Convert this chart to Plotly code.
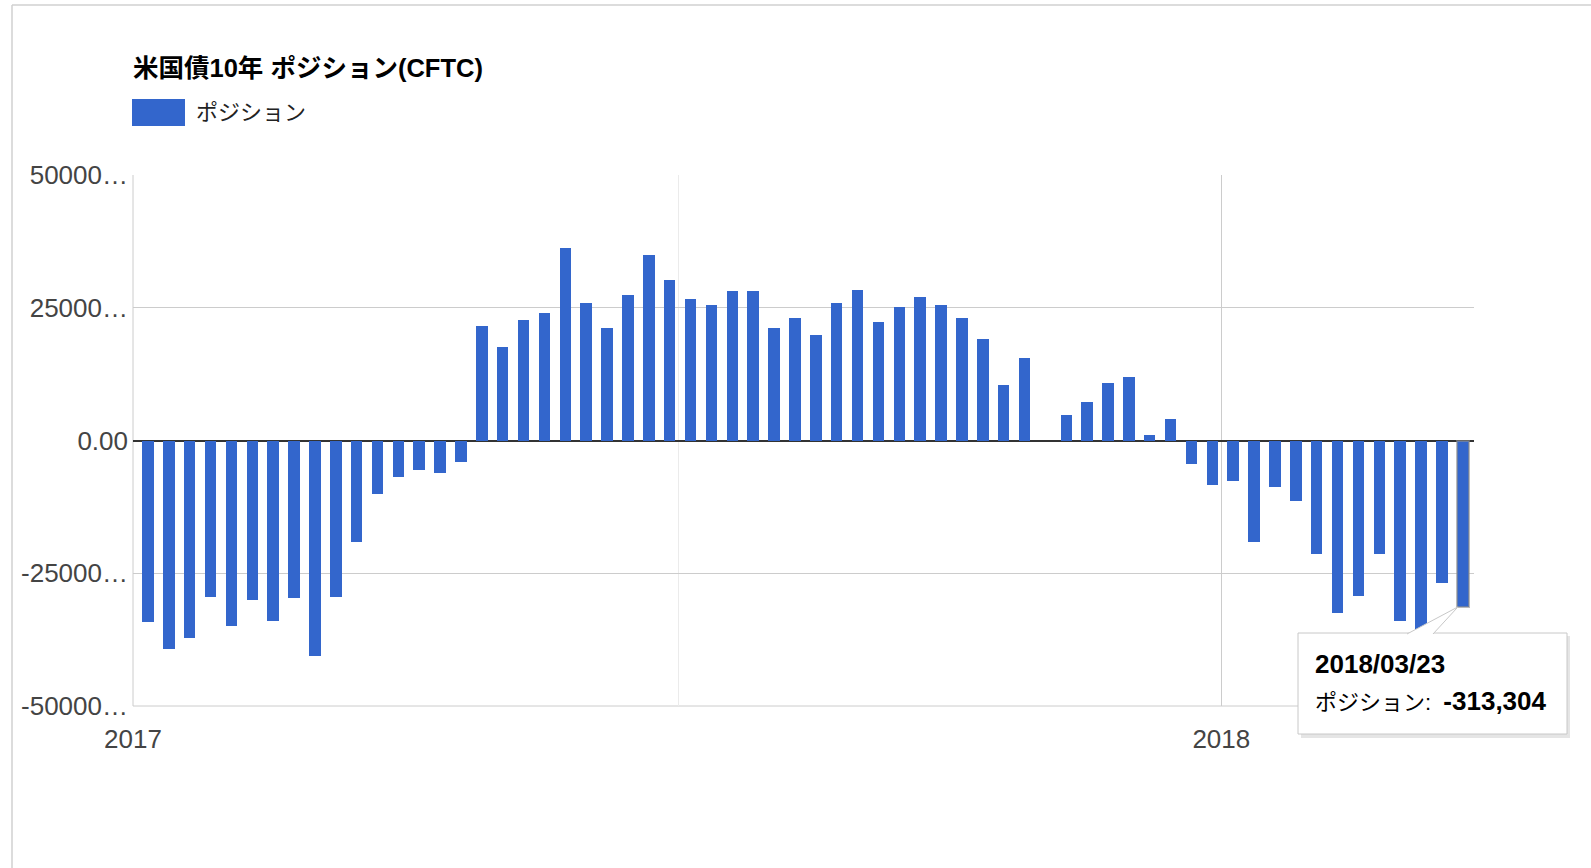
import plotly.graph_objects as go
import pandas as pd

# ---------------- data ----------------
dates = pd.date_range("2017-01-06", "2018-03-23", freq="7D").strftime("%Y-%m-%d").tolist()
positions = [
    -342000, -392000, -371000, -294000, -350000, -300000, -339000, -297000,
    -405000, -294000, -192000, -100000, -69000, -55000, -62000, -41000,
    216000, 176000, 227000, 241000, 363000, 259000, 212000, 274000,
    349000, 302000, 267000, 256000, 281000, 281000, 212000, 230000,
    198000, 259000, 284000, 223000, 252000, 270000, 256000, 230000,
    191000, 105000, 155000, None, 48000, 73000, 109000, 120000,
    11000, 41000, -45000, -83000, -76000, -192000, -87000, -114000,
    -213000, -325000, -293000, -213000, -339000, -355000, -269000, -313304,
]
y_tickvals = [-500000, -250000, 0, 250000, 500000]
y_ticktext = ["-50000…", "-25000…", "0.00", "25000…", "50000…"]
x_tickvals = ["2017-01-01", "2018-01-01"]
x_ticktext = ["2017", "2018"]
x_minor_grid = ["2017-07-03"]
x_range = ["2017-01-01", "2018-03-26 18:00"]
title_text = "米国債10年 ポジション(CFTC)"
series_name = "ポジション"

# ---------------- layout geometry ----------------
W, H = 1591, 868
ML, MR, MT, MB = 133, 117, 175, 162
PW, PH = W - ML - MR, H - MT - MB


def xp(px):
    return (px - ML) / PW


def yp(py):
    return (H - MB - py) / PH


LATIN = "Liberation Sans, Arial, Noto Sans CJK JP, sans-serif"
BLUE = "#3366cc"

n = len(dates)
line_w = [0] * (n - 1) + [2]
line_c = ["rgba(0,0,0,0)"] * (n - 1) + ["rgba(140,140,140,0.6)"]

fig = go.Figure(
    go.Bar(
        x=dates,
        y=positions,
        name=series_name,
        width=3.33e8,
        marker=dict(color=BLUE, line=dict(width=line_w, color=line_c)),
        hoverinfo="skip",
    )
)

shapes = []
# plot-area edge gridlines (left 2017 line and bottom line)
shapes.append(dict(type="line", xref="paper", yref="paper", x0=0, x1=0, y0=0, y1=1,
                   line=dict(color="#cccccc", width=1), layer="below"))
shapes.append(dict(type="line", xref="paper", yref="paper", x0=0, x1=1, y0=0, y1=0,
                   line=dict(color="#cccccc", width=1), layer="below"))
# container border (top and left)
shapes.append(dict(type="line", xref="paper", yref="paper", x0=xp(12), x1=xp(W + 5), y0=yp(5), y1=yp(5),
                   line=dict(color="#d0d0d0", width=1.5)))
shapes.append(dict(type="line", xref="paper", yref="paper", x0=xp(12), x1=xp(12), y0=yp(5), y1=yp(H + 5),
                   line=dict(color="#d0d0d0", width=1.5)))
# legend swatch
shapes.append(dict(type="rect", xref="paper", yref="paper", x0=xp(132), x1=xp(185), y0=yp(126), y1=yp(99),
                   fillcolor=BLUE, line=dict(width=0)))
# tooltip
last_y_paper = (positions[-1] - y_tickvals[0]) / (y_tickvals[-1] - y_tickvals[0])
shapes.append(dict(type="rect", xref="paper", yref="paper", x0=xp(1301), x1=xp(1570), y0=yp(738), y1=yp(636),
                   fillcolor="rgba(0,0,0,0.10)", line=dict(width=0)))
shapes.append(dict(type="rect", xref="paper", yref="paper", x0=xp(1298), x1=xp(1567), y0=yp(734), y1=yp(633),
                   fillcolor="white", line=dict(color="#c8c8c8", width=1)))
tri = "M {:.5f},{:.5f} L {:.5f},{:.5f} L {:.5f},{:.5f}".format(
    xp(1407), yp(634), xp(1458), last_y_paper, xp(1433), yp(634))
shapes.append(dict(type="path", xref="paper", yref="paper", path=tri,
                   fillcolor="white", line=dict(color="#c8c8c8", width=1)))

annotations = [
    dict(text="<b>" + title_text + "</b>", xref="paper", yref="paper", x=xp(131), y=yp(68),
         xanchor="left", yanchor="middle", showarrow=False,
         font=dict(family=LATIN, size=25.5, color="#000")),
    dict(text=series_name, xref="paper", yref="paper", x=xp(194), y=yp(112),
         xanchor="left", yanchor="middle", showarrow=False,
         font=dict(family=LATIN, size=22, color="#222")),
    dict(text="<b>" + dates[-1].replace("-", "/") + "</b>", xref="paper", yref="paper",
         x=xp(1313), y=yp(664), xanchor="left", yanchor="middle", showarrow=False,
         font=dict(family=LATIN, size=26, color="#000")),
    dict(text="<span style='font-size:22px'>" + series_name + ":&nbsp;&nbsp;</span><b>"
         + f"{positions[-1]:,}" + "</b>",
         xref="paper", yref="paper", x=xp(1313), y=yp(701), xanchor="left", yanchor="middle",
         showarrow=False, font=dict(family=LATIN, size=26, color="#000")),
]

fig.update_layout(
    width=W, height=H,
    margin=dict(l=ML, r=MR, t=MT, b=MB, pad=0),
    paper_bgcolor="white", plot_bgcolor="white",
    showlegend=False,
    bargap=0,
    font=dict(family=LATIN, size=26, color="#444"),
    xaxis=dict(
        type="date", range=x_range, tickmode="array", tickvals=x_tickvals, ticktext=x_ticktext,
        showgrid=True, gridcolor="#cccccc", gridwidth=1, showline=False, zeroline=False,
        ticks="", ticklabelstandoff=15, tickfont=dict(size=26, color="#444"),
        minor=dict(tickmode="array", tickvals=x_minor_grid, showgrid=True, gridcolor="#ebebeb", ticks=""),
        fixedrange=True,
    ),
    yaxis=dict(
        range=[y_tickvals[0], y_tickvals[-1]], tickmode="array", tickvals=y_tickvals, ticktext=y_ticktext,
        showgrid=True, gridcolor="#cccccc", gridwidth=1, zeroline=True, zerolinecolor="#333333",
        zerolinewidth=2, showline=False, ticks="", ticklabelstandoff=4,
        tickfont=dict(size=26, color="#444"), fixedrange=True,
    ),
    shapes=shapes,
    annotations=annotations,
)

fig.write_html(
    "out.html",
    config={"displayModeBar": False},
    post_script="document.body.style.margin='0';document.body.style.overflow='hidden';",
)
